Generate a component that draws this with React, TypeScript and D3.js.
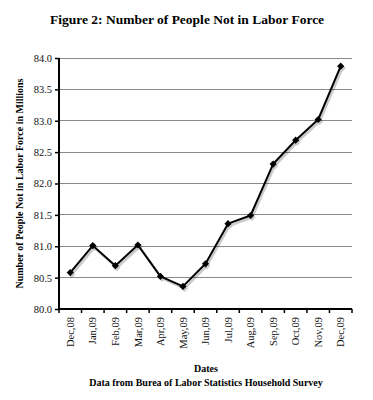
import React, { useEffect, useRef } from 'react'
import { select, scaleBand, scaleLinear, axisLeft, axisBottom, line, symbol, symbolSquare, range } from 'd3'

const months = ['Dec,08', 'Jan,09', 'Feb,09', 'Mar,09', 'Apr,09', 'May,09', 'Jun,09',
  'Jul,09', 'Aug,09', 'Sep,09', 'Oct,09', 'Nov,09', 'Dec,09']
const notInLaborForce = [80.58, 81.01, 80.69, 81.02, 80.52, 80.36, 80.72,
  81.36, 81.49, 82.31, 82.69, 83.02, 83.87]
const yTicks = [80, 80.5, 81, 81.5, 82, 82.5, 83, 83.5, 84]

const W = 373
const H = 400
const plot = { left: 59, right: 352, top: 58, bottom: 309 }
const font = '"Liberation Serif", serif'

const App = () => {
  const svgRef = useRef(null)

  useEffect(() => {
    const svg = select(svgRef.current)
    svg.selectAll('*').remove()

    const x = scaleBand().domain(months).range([plot.left, plot.right])
    const y = scaleLinear().domain([80, 84]).range([plot.bottom, plot.top])

    // grid
    svg.append('g')
      .selectAll('line')
      .data(yTicks.slice(1))
      .join('line')
      .attr('x1', plot.left).attr('x2', plot.right)
      .attr('y1', d => y(d)).attr('y2', d => y(d))
      .attr('stroke', '#8a8a8a').attr('stroke-width', 1)
      .attr('shape-rendering', 'crispEdges')

    // y axis
    const gy = svg.append('g')
      .attr('transform', `translate(${plot.left},0)`)
      .call(axisLeft(y).tickValues(yTicks).tickFormat(d => d.toFixed(1)).tickSize(4).tickPadding(3))
    gy.select('.domain').attr('stroke', '#000').attr('stroke-width', 2).attr('d', `M0,${plot.top}V${plot.bottom}`)
    gy.selectAll('.tick line').attr('stroke', '#000').attr('stroke-width', 1.5)
    gy.selectAll('text').attr('font-family', font).attr('font-size', 10.5).attr('fill', '#111')

    // x axis
    const gx = svg.append('g')
      .attr('transform', `translate(0,${plot.bottom})`)
      .call(axisBottom(x).tickSize(0).tickPadding(0))
    gx.select('.domain').attr('stroke', '#000').attr('stroke-width', 2).attr('d', `M${plot.left},0H${plot.right}`)
    gx.selectAll('.tick text')
      .attr('font-family', font).attr('font-size', 10.5).attr('fill', '#111')
      .attr('transform', 'rotate(-90)')
      .attr('text-anchor', 'end')
      .attr('x', -8).attr('y', 0).attr('dy', '0.35em')
    gx.append('g')
      .selectAll('line')
      .data(range(months.length + 1))
      .join('line')
      .attr('x1', i => plot.left + i * x.step()).attr('x2', i => plot.left + i * x.step())
      .attr('y1', 0).attr('y2', 4)
      .attr('stroke', '#000').attr('stroke-width', 1.5)

    const pts = months.map((m, i) => [x(m) + x.bandwidth() / 2, y(notInLaborForce[i])])
    const path = line()
    const diamond = symbol().type(symbolSquare).size(26)

    // shadow
    const shadow = svg.append('g').attr('transform', 'translate(1.5,2)').attr('opacity', 0.2)
    shadow.append('path').attr('d', path(pts)).attr('fill', 'none').attr('stroke', '#000').attr('stroke-width', 2.5)
    shadow.selectAll('path.m').data(pts).join('path').attr('class', 'm')
      .attr('d', diamond).attr('transform', d => `translate(${d[0]},${d[1]}) rotate(45)`).attr('fill', '#000')

    svg.append('path').attr('d', path(pts)).attr('fill', 'none')
      .attr('stroke', '#000').attr('stroke-width', 2).attr('stroke-linejoin', 'round')
    svg.selectAll('path.marker').data(pts).join('path').attr('class', 'marker')
      .attr('d', diamond).attr('transform', d => `translate(${d[0]},${d[1]}) rotate(45)`).attr('fill', '#000')

    // titles
    svg.append('text')
      .attr('x', 187).attr('y', 24).attr('text-anchor', 'middle')
      .attr('font-family', font).attr('font-weight', 'bold').attr('font-size', 13.5)
      .text('Figure 2: Number of People Not in Labor Force')

    svg.append('text')
      .attr('transform', `translate(23,${(plot.top + plot.bottom) / 2}) rotate(-90)`)
      .attr('text-anchor', 'middle')
      .attr('font-family', font).attr('font-weight', 'bold').attr('font-size', 10)
      .text('Number of People Not in Labor Force in Millions')

    svg.append('text')
      .attr('x', 206).attr('y', 372).attr('text-anchor', 'middle')
      .attr('font-family', font).attr('font-weight', 'bold').attr('font-size', 10)
      .text('Dates')

    svg.append('text')
      .attr('x', 206).attr('y', 386).attr('text-anchor', 'middle')
      .attr('font-family', font).attr('font-weight', 'bold').attr('font-size', 10)
      .text('Data from Burea of Labor Statistics Household Survey')
  }, [])

  return (
    <svg ref={svgRef} width={W} height={H} viewBox={`0 0 ${W} ${H}`}
      style={{ position: 'absolute', left: 0, top: 0, background: '#fff' }} />
  )
}

export default App
